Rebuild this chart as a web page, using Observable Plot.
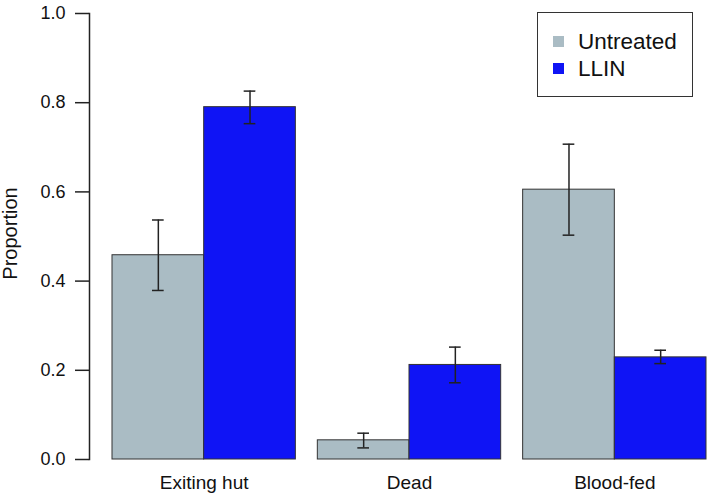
<!DOCTYPE html>
<html>
<head>
<meta charset="utf-8">
<script src="https://cdn.jsdelivr.net/npm/d3@7"></script>
<script src="https://cdn.jsdelivr.net/npm/@observablehq/plot@0.6"></script>
<style>
  html, body { margin: 0; padding: 0; background: #fff; overflow: hidden; }
  #wrap { position: relative; width: 709px; height: 494px; font-family: "Liberation Sans", Arial, Helvetica, sans-serif; }
  #legend { position: absolute; left: 537px; top: 12px; width: 156px; height: 85px; box-sizing: border-box;
            border: 1.5px solid #333; padding: 14.5px 0 0 14.5px; background: #fff; }
  .row { display: flex; align-items: center; height: 27px; line-height: 27px; font-size: 22.5px; color: #111; }
  .sw { width: 11px; height: 11px; margin-right: 14.5px; }
</style>
</head>
<body>
<div id="wrap"></div>
<script>
const categories = ["Exiting hut", "Dead", "Blood-fed"];
const treatments = ["Untreated", "LLIN"];
const colors = ["#aabcc4", "#0f14f5"];
const untreated   = [0.458, 0.043, 0.605];
const untreatedLo = [0.379, 0.026, 0.503];
const untreatedHi = [0.537, 0.059, 0.707];
const llin   = [0.790, 0.212, 0.229];
const llinLo = [0.753, 0.172, 0.215];
const llinHi = [0.826, 0.252, 0.245];
const yTicks = [0, 0.2, 0.4, 0.6, 0.8, 1.0];
const yLabel = "Proportion";

const series = {Untreated: [untreated, untreatedLo, untreatedHi], LLIN: [llin, llinLo, llinHi]};
const rows = [];
categories.forEach((c, i) => treatments.forEach(t => {
  const [v, lo, hi] = series[t];
  rows.push({category: c, treatment: t, value: v[i], lo: lo[i], hi: hi[i]});
}));

const ink = "#222";
const chart = Plot.plot({
  width: 709,
  height: 494,
  marginLeft: 112,
  marginRight: 3,
  marginTop: 13,
  marginBottom: 35,
  style: {fontFamily: "'Liberation Sans', Arial, Helvetica, sans-serif", background: "#fff"},
  fx: {domain: categories, paddingInner: 0.107, paddingOuter: 0, round: false},
  x: {domain: treatments, padding: 0, round: false, axis: null},
  y: {domain: [0, 1]},
  color: {domain: treatments, range: colors},
  marks: [
    Plot.barY(rows, {fx: "category", x: "treatment", y: "value", fill: "treatment", stroke: "#333", strokeWidth: 1}),
    Plot.ruleX(rows, {fx: "category", x: "treatment", y1: "lo", y2: "hi", stroke: ink, strokeWidth: 1.5}),
    Plot.tickY(rows, {fx: "category", x: "treatment", y: "lo", stroke: ink, strokeWidth: 1.5, inset: 40}),
    Plot.tickY(rows, {fx: "category", x: "treatment", y: "hi", stroke: ink, strokeWidth: 1.5, inset: 40}),
    Plot.axisY({ticks: yTicks, tickFormat: d3.format(".1f"), tickSize: 14, tickPadding: 10, dx: -23,
                fontSize: 18, label: null, stroke: ink, strokeWidth: 1.5, fill: "#111"}),
    Plot.frame({anchor: "left", dx: -23, facetAnchor: "left", stroke: ink, strokeWidth: 1.5}),
    Plot.axisFx({anchor: "bottom", tickSize: 0, tickPadding: 16, fontSize: 19, label: null, fill: "#111"}),
    Plot.text([yLabel], {frameAnchor: "left", textAnchor: "middle", rotate: -90, dx: -102, dy: -3,
                         fontSize: 20, fill: "#111", facetAnchor: "left"})
  ]
});

const wrap = document.getElementById("wrap");
wrap.appendChild(chart);

const colorScale = chart.scale("color");
const legend = document.createElement("div");
legend.id = "legend";
colorScale.domain.forEach((t, i) => {
  const row = document.createElement("div");
  row.className = "row";
  const sw = document.createElement("span");
  sw.className = "sw";
  sw.style.background = colorScale.range[i];
  const label = document.createElement("span");
  label.textContent = t;
  row.appendChild(sw);
  row.appendChild(label);
  legend.appendChild(row);
});
wrap.appendChild(legend);
</script>
</body>
</html>
